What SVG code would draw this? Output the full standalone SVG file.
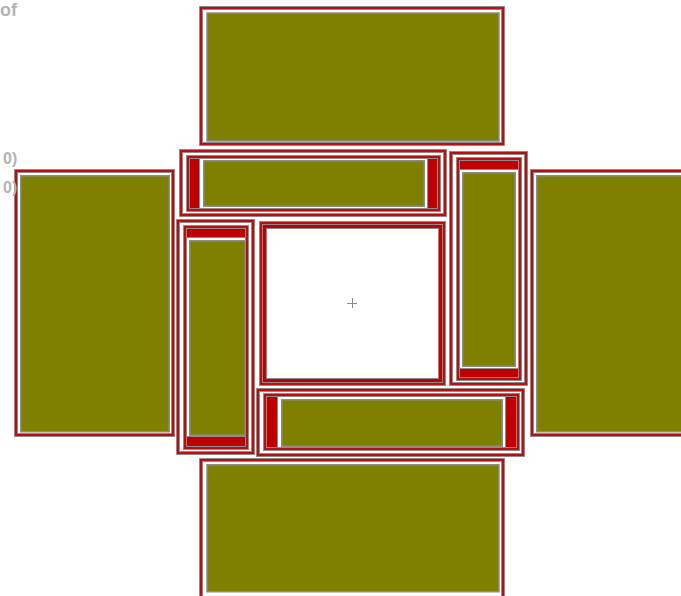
<svg xmlns="http://www.w3.org/2000/svg" width="681" height="596" viewBox="0 0 681 596">
<style>
.fg{fill:none;stroke:#8c8c8c;stroke-width:4}
.fr{fill:none;stroke:#c00000;stroke-width:1.8}
.ol{fill:#7f7f00;stroke:#8c8c8c;stroke-width:1.5}
.bar{fill:#c00000;stroke:#8c8c8c;stroke-width:1}
.cross{stroke:#8c8c8c;stroke-width:1}
.lbl{font-family:"Liberation Sans",Arial,sans-serif;font-weight:bold;fill:#b4b4b4}
</style>
<rect width="681" height="596" fill="#ffffff"/>
<g id="top">
<rect class="fg" x="201" y="8" width="302" height="136"/>
<rect class="fr" x="201" y="8" width="302" height="136"/>
<rect class="ol" x="207" y="13" width="292" height="128"/>
</g>
<g id="left">
<rect class="fg" x="16" y="171" width="157" height="264"/>
<rect class="fr" x="16" y="171" width="157" height="264"/>
<rect class="ol" x="20.75" y="175.75" width="148.5" height="256"/>
</g>
<g id="right">
<rect class="fg" x="532" y="171" width="160" height="264"/>
<rect class="fr" x="532" y="171" width="160" height="264"/>
<rect class="ol" x="536.75" y="175.75" width="150" height="256"/>
</g>
<g id="bottom">
<rect class="fg" x="201" y="460" width="302" height="140"/>
<rect class="fr" x="201" y="460" width="302" height="140"/>
<rect class="ol" x="207" y="464.75" width="292" height="127"/>
</g>
<g id="mid-top">
<rect class="fg" x="181" y="151" width="264" height="64"/>
<rect class="fr" x="181" y="151" width="264" height="64"/>
<rect class="fg" x="188" y="157" width="251" height="53"/>
<rect class="fr" x="188" y="157" width="251" height="53"/>
<rect class="bar" x="189.5" y="158.5" width="10" height="50"/>
<rect class="bar" x="427.5" y="158.5" width="10" height="50"/>
<rect class="ol" x="203.75" y="160.75" width="220.5" height="45.5"/>
</g>
<g id="mid-right">
<rect class="fg" x="451" y="153" width="75" height="231"/>
<rect class="fr" x="451" y="153" width="75" height="231"/>
<rect class="fg" x="458" y="159" width="62" height="220"/>
<rect class="fr" x="458" y="159" width="62" height="220"/>
<rect class="bar" x="459.5" y="160.5" width="59" height="9"/>
<rect class="bar" x="459.5" y="368.5" width="59" height="9"/>
<rect class="ol" x="462.75" y="172.75" width="52.5" height="193.5"/>
</g>
<g id="mid-left">
<rect class="fg" x="178" y="221" width="75" height="232"/>
<rect class="fr" x="178" y="221" width="75" height="232"/>
<rect class="fg" x="185" y="227" width="62" height="221"/>
<rect class="fr" x="185" y="227" width="62" height="221"/>
<rect class="bar" x="186.5" y="228.5" width="59" height="9"/>
<rect class="bar" x="186.5" y="436.5" width="59" height="10"/>
<rect class="ol" x="189.75" y="240.75" width="55.5" height="194.5"/>
</g>
<g id="mid-bottom">
<rect class="fg" x="258" y="390" width="265" height="65"/>
<rect class="fr" x="258" y="390" width="265" height="65"/>
<rect class="fg" x="265" y="395" width="253" height="54"/>
<rect class="fr" x="265" y="395" width="253" height="54"/>
<rect class="bar" x="266.5" y="396.5" width="11" height="51"/>
<rect class="bar" x="505.5" y="396.5" width="11" height="51"/>
<rect class="ol" x="281.75" y="399.75" width="220.5" height="46.5"/>
</g>
<g id="center">
<rect class="fg" x="261" y="223" width="183" height="161"/>
<rect class="fr" x="261" y="223" width="183" height="161"/>
<rect x="264.5" y="226.5" width="176" height="154" fill="none" stroke="#8c8c8c" stroke-width="5"/>
<rect x="264.5" y="226.5" width="176" height="154" fill="none" stroke="#c00000" stroke-width="3"/>
<line class="cross" x1="347" y1="303.5" x2="357" y2="303.5"/>
<line class="cross" x1="352.5" y1="298" x2="352.5" y2="308"/>
</g>
<g id="connectors"></g>
<g id="labels">
<text class="lbl" x="0" y="16" font-size="18">of</text>
<text class="lbl" x="3" y="164" font-size="16">0)</text>
<text class="lbl" x="3" y="193" font-size="16">0)</text>
</g>
</svg>
